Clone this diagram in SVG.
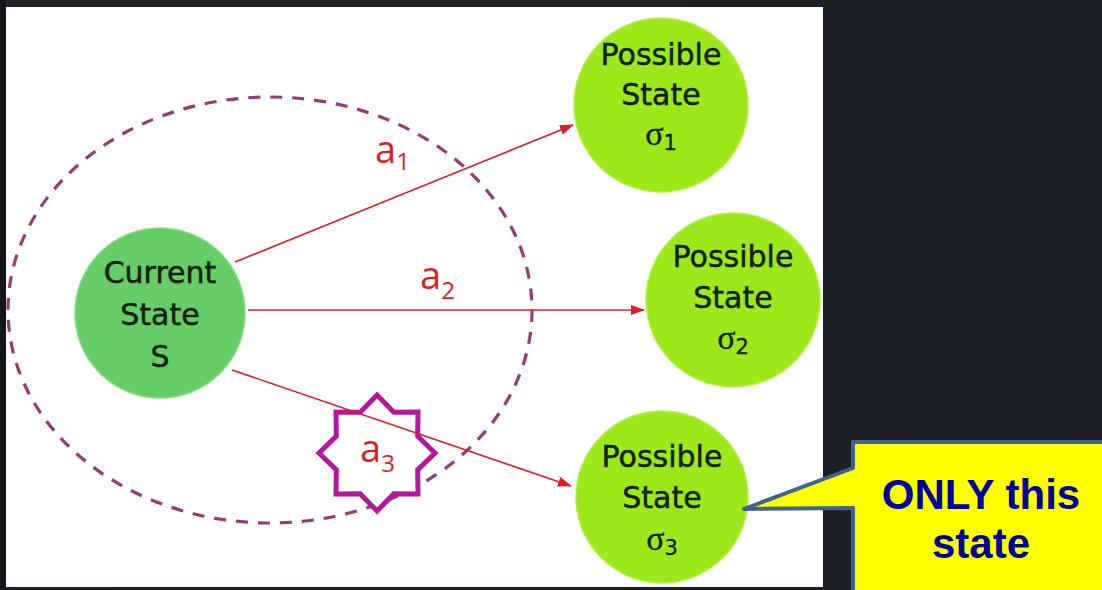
<svg xmlns="http://www.w3.org/2000/svg" width="1102" height="590" viewBox="0 0 1102 590">
  <defs>
    <linearGradient id="bg" x1="0" y1="0" x2="1" y2="1">
      <stop offset="0" stop-color="#1e232b"/>
      <stop offset="1" stop-color="#1a1d24"/>
    </linearGradient>
    <marker id="arrow" viewBox="0 0 14 10" refX="13" refY="5" markerWidth="14" markerHeight="10" markerUnits="userSpaceOnUse" orient="auto">
      <path d="M0,0 L14,5 L0,10 Z" fill="#e01b24"/>
    </marker>
    <style>
      .node-text { font-family: "DejaVu Sans", Verdana, sans-serif; font-size: 30px; fill: #14200e; stroke: #14200e; stroke-width: 0.5; text-anchor: middle; }
      .sigma { font-family: "Liberation Serif", "Times New Roman", serif; font-size: 34px; stroke-width: 0.3; }
      .sub { font-family: "DejaVu Sans", Verdana, sans-serif; font-size: 21px; stroke-width: 0.3; }
      .current { fill: #66cc66; stroke: #7fdc7f; stroke-width: 1.5; }
      .possible { fill: #9ce81a; stroke: #b4f04a; stroke-width: 1.5; }
      .edge { stroke: #e01b24; stroke-width: 1.6; fill: none; marker-end: url(#arrow); }
      .action { font-family: "Open Sans", "DejaVu Sans", sans-serif; font-size: 38px; fill: #d91f26; }
      .action-sub { font-size: 24px; }
      .callout-text { font-family: "Liberation Sans", Arial, sans-serif; font-weight: bold; font-size: 42px; fill: #00009c; text-anchor: middle; }
    </style>
  </defs>

  <!-- backdrop and slide area -->
  <rect x="0" y="0" width="1102" height="590" fill="url(#bg)"/>
  <rect x="0" y="0" width="6" height="590" fill="#13161b"/>
  <rect x="6" y="7" width="817" height="580" fill="#ffffff"/>

  <!-- reachable region boundary -->
  <ellipse cx="270" cy="310" rx="262" ry="213" fill="none" stroke="#933a77" stroke-width="3.2" stroke-dasharray="12 10"/>

  <!-- highlighted action a3 -->
  <g id="action-a3-star">
    <polygon points="377,395 393.8,412.3 418,412 417.7,436.2 435,453 417.7,469.8 418,494 393.8,493.7 377,511 360.2,493.7 336,494 336.3,469.8 319,453 336.3,436.2 336,412 360.2,412.3" fill="#ffffff" stroke="#b3179c" stroke-width="5" stroke-linejoin="miter"/>
  </g>

  <!-- transitions -->
  <g id="connectors">
    <line class="edge" x1="235" y1="262" x2="573" y2="125"/>
    <line class="edge" x1="248" y1="310" x2="644" y2="310"/>
    <line class="edge" x1="232" y1="370" x2="571" y2="486"/>
    <text class="action" x="375" y="163">a<tspan class="action-sub" dy="7">1</tspan></text>
    <text class="action" x="420" y="289">a<tspan class="action-sub" dy="10">2</tspan></text>
    <text class="action" x="360" y="462">a<tspan class="action-sub" dy="10">3</tspan></text>
  </g>

  <g id="current-state">
    <circle class="current" cx="160" cy="313" r="85"/>
    <text class="node-text" x="160" y="283">Current</text>
    <text class="node-text" x="160" y="325">State</text>
    <text class="node-text" x="160" y="367">S</text>
  </g>

  <g id="possible-state-1">
    <circle class="possible" cx="661" cy="105" r="87"/>
    <text class="node-text" x="661" y="65">Possible</text>
    <text class="node-text" x="661" y="105">State</text>
    <text class="node-text" x="661" y="145"><tspan class="sigma">σ</tspan><tspan class="sub" dy="5">1</tspan></text>
  </g>

  <g id="possible-state-2">
    <circle class="possible" cx="733" cy="300" r="87"/>
    <text class="node-text" x="733" y="267">Possible</text>
    <text class="node-text" x="733" y="308">State</text>
    <text class="node-text" x="733" y="349"><tspan class="sigma">σ</tspan><tspan class="sub" dy="5">2</tspan></text>
  </g>

  <g id="possible-state-3">
    <circle class="possible" cx="662" cy="497" r="86"/>
    <text class="node-text" x="662" y="467">Possible</text>
    <text class="node-text" x="662" y="508">State</text>
    <text class="node-text" x="662" y="550"><tspan class="sigma">σ</tspan><tspan class="sub" dy="5">3</tspan></text>
  </g>

  <!-- callout -->
  <g id="callout">
    <path d="M853,442 L1112,442 L1112,600 L853,600 L853,508 L744,509 L853,468 Z" fill="#ffff00" stroke="#3f6290" stroke-width="4" stroke-linejoin="round"/>
    <text class="callout-text" x="981" y="509">ONLY this</text>
    <text class="callout-text" x="981" y="558">state</text>
  </g>
</svg>
